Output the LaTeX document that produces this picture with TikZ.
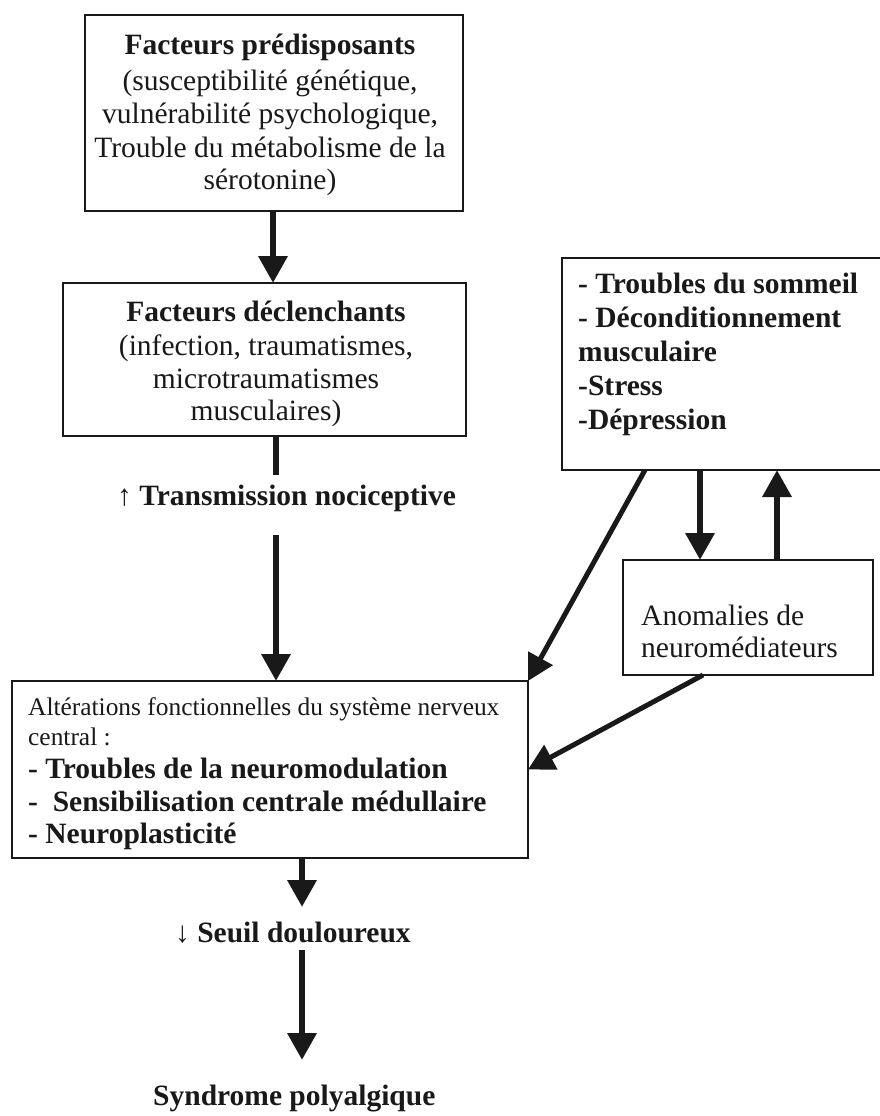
\documentclass[tikz,border=0pt]{standalone}
\usepackage{fontspec}
\setmainfont{Liberation Serif}
\usetikzlibrary{arrows.meta}
\definecolor{ink}{RGB}{25,25,25}
\tikzset{
  box/.style={draw=ink, line width=2pt, inner sep=0pt, outer sep=0pt, rectangle},
  big/.style={font=\fontsize{29.5}{34}\selectfont, text=ink, inner sep=0pt},
  bigb/.style={font=\fontsize{29.5}{34}\selectfont\bfseries, text=ink, inner sep=0pt},
  small/.style={font=\fontsize{25.4}{30}\selectfont, text=ink, inner sep=0pt},
  flow/.style={draw=ink, line width=6.5pt, -{Triangle[length=27pt,width=28pt]}},
  stem/.style={draw=ink, line width=6.5pt},
  diag/.style={draw=ink, line width=5pt, -{Triangle[length=26pt,width=27pt]}},
}
\begin{document}
\begin{tikzpicture}[x=1pt,y=-1pt]
\useasboundingbox (0,0) rectangle (879,1116);
\fill[white] (0,0) rectangle (879,1116);

% boxes
\node[box, minimum width=378pt, minimum height=196pt] (b1) at (274,113) {};
\node[box, minimum width=403pt, minimum height=153pt] (b2) at (264.5,359.5) {};
\node[box, minimum width=338pt, minimum height=212pt] (b3) at (731,364) {};
\node[box, minimum width=250pt, minimum height=115pt] (b4) at (748,617.5) {};
\node[box, minimum width=516pt, minimum height=177pt] (b5) at (270,769.5) {};

% box 1 text
\node[bigb, anchor=base] (t1a) at (270,55) {Facteurs prédisposants};
\node[big, anchor=base] (t1b) at (270,90) {(susceptibilité génétique,};
\node[big, anchor=base] (t1c) at (270,123) {vulnérabilité psychologique,};
\node[big, anchor=base] (t1d) at (270,157) {Trouble du métabolisme de la};
\node[big, anchor=base] (t1e) at (270,189) {sérotonine)};

% box 2 text
\node[bigb, anchor=base] (t2a) at (266,321) {Facteurs déclenchants};
\node[big, anchor=base] (t2b) at (266,355) {(infection, traumatismes,};
\node[big, anchor=base] (t2c) at (266,388) {microtraumatismes};
\node[big, anchor=base] (t2d) at (266,420) {musculaires)};

% box 3 text
\node[bigb, anchor=base west] (t3a) at (578,293) {- Troubles du sommeil};
\node[bigb, anchor=base west] (t3b) at (578,327) {- Déconditionnement};
\node[bigb, anchor=base west] (t3c) at (578,361) {musculaire};
\node[bigb, anchor=base west] (t3d) at (578,395) {-Stress};
\node[bigb, anchor=base west] (t3e) at (578,429) {-Dépression};

% box 4 text
\node[big, anchor=base west] (t4a) at (641,625) {Anomalies de};
\node[big, anchor=base west] (t4b) at (641,657) {neuromédiateurs};

% box 5 text
\node[small, anchor=base west] (t5a) at (28,715) {Altérations fonctionnelles du système nerveux};
\node[small, anchor=base west] (t5b) at (28,745) {central :};
\node[bigb, anchor=base west] (t5c) at (28,778) {- Troubles de la neuromodulation};
\node[bigb, anchor=base west] (t5d) at (28,811) {-\ \ Sensibilisation centrale médullaire};
\node[bigb, anchor=base west] (t5e) at (28,843) {- Neuroplasticité};

% free labels
\node[bigb, anchor=base west] (trans) at (117,505) {{\mdseries ↑}\ Transmission nociceptive};
\node[bigb, anchor=base west] (seuil) at (175,942) {{\mdseries ↓}\ Seuil douloureux};
\node[bigb, anchor=base west] (synd) at (153,1105) {Syndrome polyalgique};

% helper coordinates
\coordinate (x1) at (273,0);
\coordinate (x2) at (276,0);
\coordinate (x3) at (302,0);
\coordinate (x4) at (700,0);
\coordinate (x5) at (777,0);
\coordinate (x6) at (645,0);
\coordinate (x7) at (703,0);
\coordinate (stemend) at (276,475);
\coordinate (arrstart) at (276,535);
\coordinate (seuiltip) at (302,907);
\coordinate (seuilout) at (302,950);
\coordinate (syndtop) at (302,1060);

% connectors
\draw[flow] (b1.south -| x1) -- (b2.north -| x1);
\draw[stem] (b2.south -| x2) -- (stemend);
\draw[flow] (arrstart) -- (b5.north -| x2);
\draw[flow] (b5.south -| x3) -- (seuiltip);
\draw[flow] (seuilout) -- (syndtop);
\draw[flow] (b3.south -| x4) -- (b4.north -| x4);
\draw[flow] (b4.north -| x5) -- (b3.south -| x5);
\draw[diag] (b3.south -| x6) -- (b5.north east);
\draw[diag] (b4.south -| x7) -- (b5.east);
\end{tikzpicture}
\end{document}
